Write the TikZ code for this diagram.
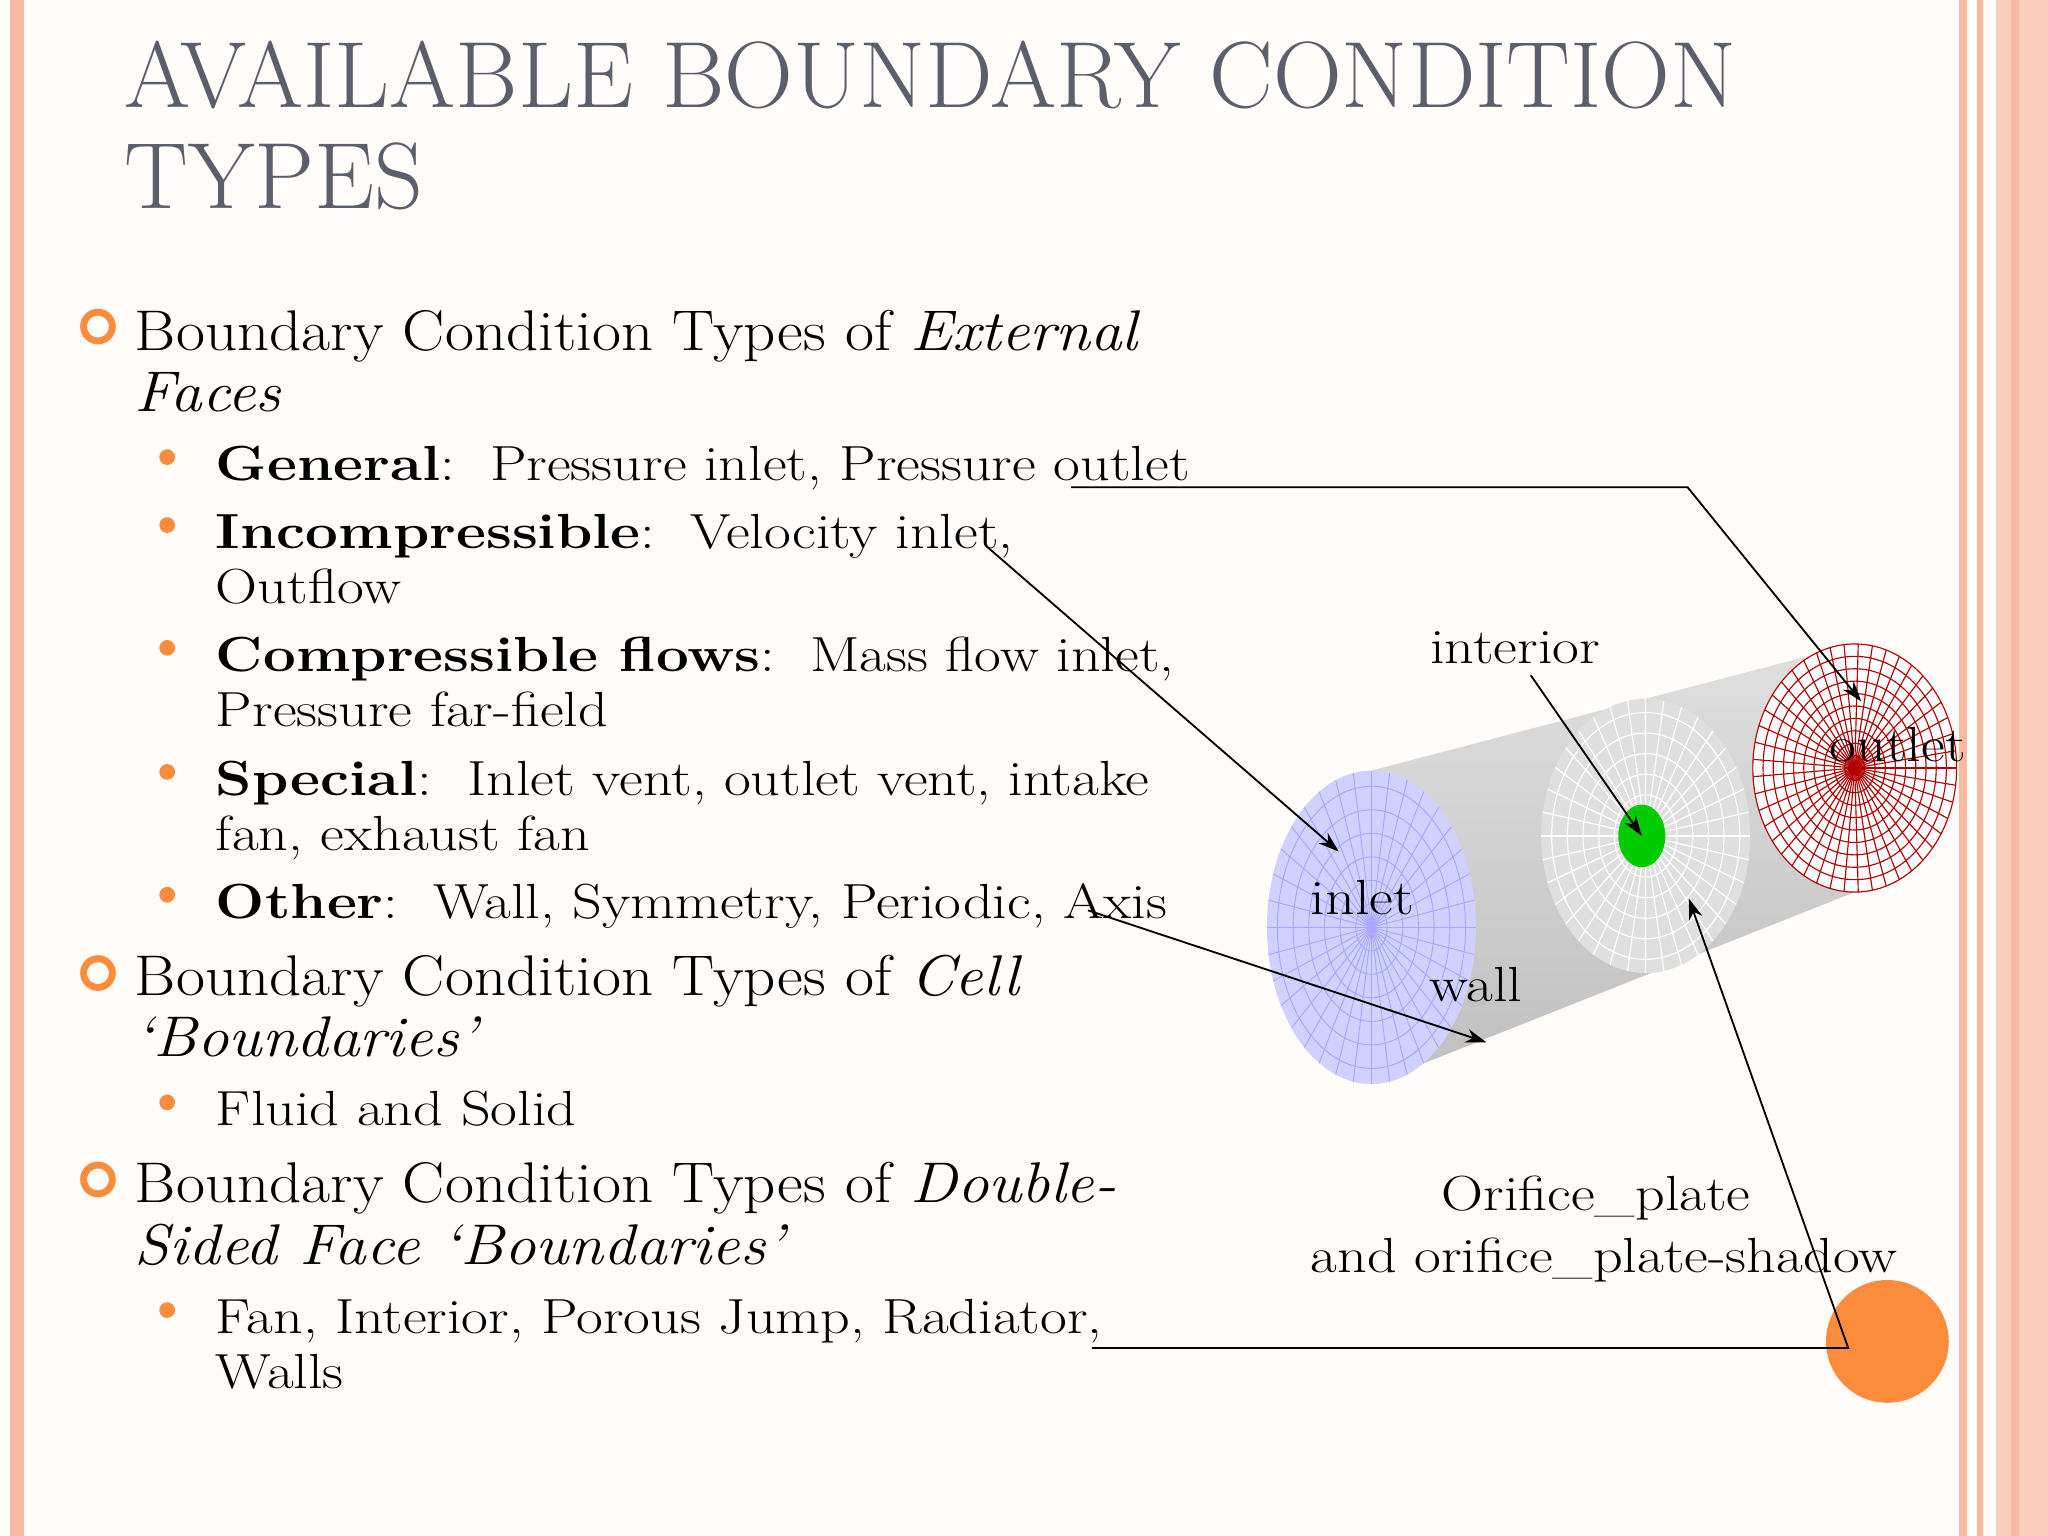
\documentclass[tikz,border=0pt]{standalone}
\usepackage{fontspec}
\setmainfont{Latin Modern Roman}
\definecolor{bg}{HTML}{FFFCFA}
\definecolor{salmon}{HTML}{F9B9A0}
\definecolor{ttl}{HTML}{5B5F6C}
\definecolor{org}{HTML}{FA8C3C}
\usetikzlibrary{arrows.meta}
\newcommand{\wA}[1]{\scalebox{1.10}[1]{#1}}
\newcommand{\wB}[1]{\scalebox{1.18}[1]{#1}}
\newcommand{\wT}[1]{\scalebox{1.015}[1]{#1}}
\begin{document}
\begin{tikzpicture}[x=0.02cm,y=-0.02cm,
  ttext/.style={anchor=base west,inner sep=0,font=\fontsize{41}{45}\selectfont,text=ttl},
  ltext/.style={anchor=base west,inner sep=0,font=\fontsize{25}{29}\selectfont},
  itext/.style={anchor=base west,inner sep=0,font=\fontsize{21.5}{25}\selectfont},
  lbl/.style={anchor=base,inner sep=0,font=\fontsize{21.5}{25}\selectfont},
  ring/.style={draw=org,line width=3pt},
  arr/.style={-{Stealth[length=9pt,width=6pt]},line width=0.8pt}]
\fill[bg] (0,0) rectangle (1568,1176);
\useasboundingbox (0,0) rectangle (1568,1176);
\fill[salmon] (8,0) rectangle (18,1176);
\fill[salmon] (1500,0) rectangle (1506,1176);
\fill[salmon] (1514,0) rectangle (1518,1176);
\fill[salmon!70] (1528,0) rectangle (1568,1176);
\fill[salmon] (1540,0) rectangle (1546,1176);
% title
\node[ttext] (t1) at (95,82) {\wT{AVAILABLE BOUNDARY CONDITION}};
\node[ttext] (t2) at (95,160) {\wT{TYPES}};
% level 1
\foreach \y in {250,745,903} \draw[ring] (75,\y) circle (11);
\node[ltext] (a1) at (103,268) {\wA{Boundary Condition Types of \textit{External}}};
\node[ltext] (a2) at (103,315) {\wA{\textit{Faces}}};
\node[ltext] (b1) at (103,762) {\wA{Boundary Condition Types of \textit{Cell}}};
\node[ltext] (b2) at (103,809) {\wA{\textit{`Boundaries'}}};
\node[ltext] (c1) at (103,921) {\wA{Boundary Condition Types of \textit{Double-}}};
\node[ltext] (c2) at (103,968) {\wA{\textit{Sided Face `Boundaries'}}};
% level 2
\foreach \y in {350,402,496,591,685,844,1003} \fill[org] (128,\y) circle (6);
\node[itext] (i1) at (165,368) {\wB{\textbf{General}:\ \ Pressure inlet, Pressure outlet}};
\node[itext] (i2) at (165,420) {\wB{\textbf{Incompressible}:\ \ Velocity inlet,}};
\node[itext] (i2b) at (165,462) {\wB{Outflow}};
\node[itext] (i3) at (165,514) {\wB{\textbf{Compressible flows}:\ \ Mass flow inlet,}};
\node[itext] (i3b) at (165,556) {\wB{Pressure far-field}};
\node[itext] (i4) at (165,609) {\wB{\textbf{Special}:\ \ Inlet vent, outlet vent, intake}};
\node[itext] (i4b) at (165,651) {\wB{fan, exhaust fan}};
\node[itext] (i5) at (165,703) {\wB{\textbf{Other}:\ \ Wall, Symmetry, Periodic, Axis}};
\node[itext] (i6) at (165,862) {\wB{Fluid and Solid}};
\node[itext] (i7) at (165,1021) {\wB{Fan, Interior, Porous Jump, Radiator,}};
\node[itext] (i7b) at (165,1063) {\wB{Walls}};
% cylinder
\shade[top color=gray!25,bottom color=gray!50] (1050,590) -- (1420,493) -- (1420,683) -- (1050,830) -- cycle;
\fill[blue!18] (1050,710) ellipse (80 and 120);
\foreach \r in {0.15,0.3,...,1.0} \draw[blue!35,line width=0.4pt] (1050,710) ellipse ({80*\r} and {120*\r});
\foreach \a in {0,10,...,350} \draw[blue!35,line width=0.4pt] (1050,710) -- ++({80*cos(\a)},{120*sin(\a)});
\fill[gray!25] (1260,640) ellipse (80 and 105);
\foreach \r in {0.15,0.3,...,1.0} \draw[white,line width=0.5pt] (1260,640) ellipse ({80*\r} and {105*\r});
\foreach \a in {0,10,...,350} \draw[white,line width=0.5pt] (1260,640) -- ++({80*cos(\a)},{105*sin(\a)});
\fill[green!80!black] (1257,640) ellipse (18 and 24);
\fill[white] (1420,588) ellipse (78 and 95);
\foreach \r in {0.1,0.2,...,1.0} \draw[red!70!black,line width=0.5pt] (1420,588) ellipse ({78*\r} and {95*\r});
\foreach \a in {0,8,...,352} \draw[red!70!black,line width=0.5pt] (1420,588) -- ++({78*cos(\a)},{95*sin(\a)});
\fill[org] (1445,1027) circle (47);
% labels
\node[lbl] (lint) at (1160,508) {\wB{interior}};
\node[lbl] (lout) at (1453,583) {\wB{outlet}};
\node[lbl] (lin) at (1043,700) {\wB{inlet}};
\node[lbl] (lw) at (1130,767) {\wB{wall}};
\node[lbl] (lo1) at (1222,927) {\wB{Orifice\_plate}};
\node[lbl] (lo2) at (1228,974) {\wB{and orifice\_plate-shadow}};
% connectors
\coordinate (p1) at (820,373); \coordinate (p1b) at (1292,373); \coordinate (p1e) at (1425,537);
\draw[arr] (p1) -- (p1b) -- (p1e);
\coordinate (p2) at (755,418); \coordinate (p2e) at (1025,652);
\draw[arr] (p2) -- (p2e);
\coordinate (p3) at (833,697); \coordinate (p3e) at (1138,798);
\draw[arr] (p3) -- (p3e);
\coordinate (p4) at (1172,517); \coordinate (p4e) at (1257,640);
\draw[arr] (p4) -- (p4e);
\coordinate (p5) at (836,1032); \coordinate (p5b) at (1415,1032); \coordinate (p5e) at (1293,688);
\draw[arr] (p5) -- (p5b) -- (p5e);
\end{tikzpicture}
\end{document}
